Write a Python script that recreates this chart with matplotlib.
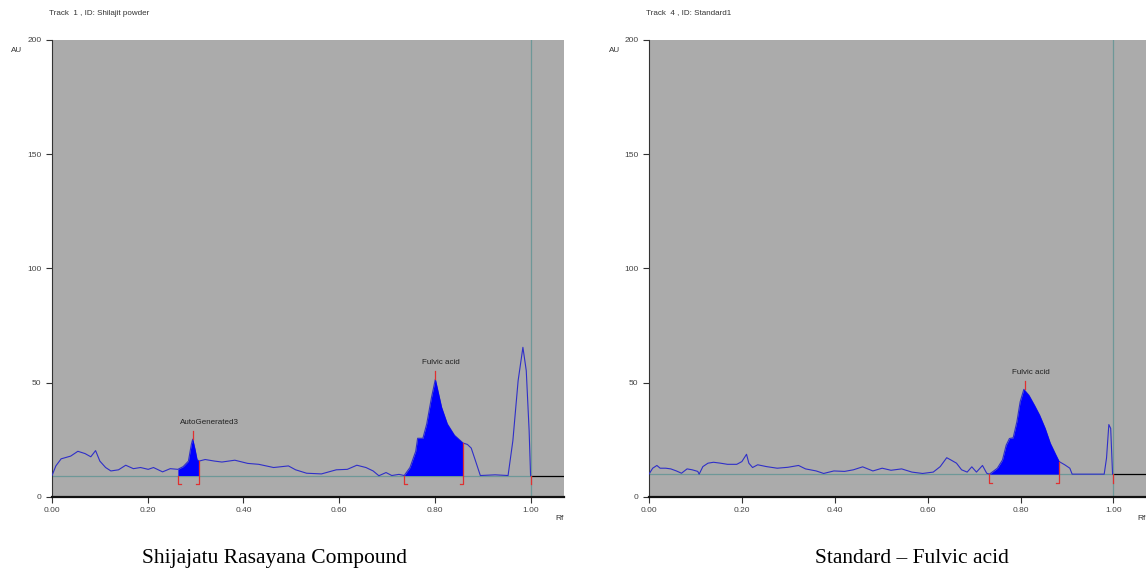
import numpy as np
import matplotlib.pyplot as plt

# ---- data ----
rf_sample = [0.000, 0.008, 0.019, 0.039, 0.054, 0.069, 0.081, 0.091, 0.100, 0.112,
             0.123, 0.139, 0.154, 0.170, 0.185, 0.201, 0.212, 0.231, 0.247, 0.263,
             0.274, 0.285, 0.291, 0.294, 0.299, 0.303, 0.307, 0.320, 0.340, 0.355,
             0.382, 0.409, 0.432, 0.463, 0.494, 0.509, 0.532, 0.563, 0.594, 0.617,
             0.637, 0.656, 0.671, 0.683, 0.698, 0.710, 0.725, 0.736, 0.748, 0.760,
             0.764, 0.775, 0.783, 0.793, 0.801, 0.814, 0.826, 0.841, 0.859, 0.868,
             0.876, 0.884, 0.895, 0.926, 0.953, 0.963, 0.974, 0.984, 0.991, 0.997,
             1.000]
au_sample = [9.4, 13.6, 16.7, 17.9, 20.0, 19.0, 17.6, 20.3, 15.7, 12.9,
             11.4, 11.9, 13.9, 12.4, 12.9, 12.1, 12.9, 11.0, 12.4, 12.1,
             13.3, 15.7, 22.9, 25.3, 20.7, 16.4, 15.7, 16.4, 15.7, 15.3,
             16.1, 14.7, 14.3, 12.9, 13.6, 11.9, 10.4, 10.1, 11.9, 12.1,
             13.9, 12.9, 11.4, 9.3, 10.7, 9.4, 9.9, 9.4, 12.9, 20.0,
             25.7, 25.7, 32.0, 43.6, 51.5, 39.3, 32.0, 27.0, 23.6, 23.0,
             21.4, 16.4, 9.4, 9.7, 9.4, 24.6, 50.9, 65.5, 55.3, 29.0,
             9.4]
base_sample = 9.4
peaks_sample = ["AutoGenerated3", "Fulvic acid"]
peak_rf_sample = [0.294, 0.801]
peak_au_sample = [25.3, 51.5]
start_sample = [0.263, 0.736]
end_sample = [0.307, 0.859]

rf_std = [0.000, 0.008, 0.017, 0.024, 0.036, 0.047, 0.059, 0.070, 0.082, 0.093,
          0.105, 0.108, 0.116, 0.127, 0.139, 0.154, 0.169, 0.189, 0.200, 0.210,
          0.215, 0.223, 0.234, 0.253, 0.276, 0.299, 0.322, 0.337, 0.360, 0.376,
          0.398, 0.421, 0.440, 0.460, 0.482, 0.502, 0.521, 0.544, 0.566, 0.589,
          0.612, 0.627, 0.641, 0.650, 0.662, 0.673, 0.685, 0.695, 0.705, 0.718,
          0.727, 0.733, 0.750, 0.761, 0.769, 0.776, 0.784, 0.792, 0.799, 0.807,
          0.818, 0.830, 0.841, 0.853, 0.864, 0.876, 0.883, 0.895, 0.906, 0.911,
          0.980, 0.985, 0.990, 0.994, 0.998]
au_std = [10.0, 12.6, 13.8, 12.6, 12.6, 12.3, 11.4, 10.4, 12.3, 11.9,
          11.2, 10.0, 13.3, 14.8, 15.2, 14.8, 14.3, 14.3, 15.5, 18.7,
          14.8, 12.9, 14.1, 13.3, 12.6, 13.0, 13.8, 12.3, 11.4, 10.3,
          11.4, 11.2, 11.9, 13.2, 11.4, 12.6, 11.7, 12.3, 10.9, 10.3,
          10.9, 13.3, 17.2, 16.2, 14.8, 11.9, 10.9, 13.2, 10.9, 13.8,
          10.4, 10.0, 12.6, 16.2, 22.7, 25.6, 25.9, 32.9, 41.6, 47.1,
          44.5, 40.1, 35.8, 30.0, 23.5, 18.4, 15.5, 14.1, 12.6, 10.0,
          10.0, 17.0, 31.7, 30.0, 10.0]
base_std = 10.0
peaks_std = ["Fulvic acid"]
peak_rf_std = [0.809]
peak_au_std = [47.1]
start_std = [0.733]
end_std = [0.883]

titles = ["Track  1 , ID: Shilajit powder", "Track  4 , ID: Standard1"]
captions = ["Shijajatu Rasayana Compound", "Standard \u2013 Fulvic acid"]
xticks = [0.0, 0.2, 0.4, 0.6, 0.8, 1.0]
yticks = [0, 50, 100, 150, 200]

GREY = "#ababab"
LINE = "#2f2fc8"
FILL = "#0000ff"
RED = "#e03030"
TEAL = "#6e9898"
SANS = "Liberation Sans"


def draw_track(ax, rf, au, base, names, prf, pau, starts, ends, title):
    rf = np.array(rf)
    au = np.array(au)
    ax.set_facecolor(GREY)
    ax.set_xlim(0, 1.07)
    ax.set_ylim(0, 200)

    # baseline, then the solvent front
    ax.plot([0, 1.0], [base, base], color=TEAL, lw=0.9, zorder=2)
    ax.plot([1.0, 1.07], [base, base], color="black", lw=0.9, zorder=2)
    ax.axvline(1.0, color=TEAL, lw=0.9, zorder=2)

    ax.plot(rf, au, color=LINE, lw=0.8, zorder=3)
    for s, e in zip(starts, ends):
        mask = (rf >= s) & (rf <= e)
        ax.fill_between(rf, au, base, where=mask, color=FILL, lw=0, zorder=3)
        low = base - 3.7
        ax.plot([s + 0.006, s, s], [low, low, base], color=RED, lw=0.9, zorder=4)
        ax.plot([e - 0.006, e, e], [low, low, au[np.argmin(abs(rf - e))]],
                color=RED, lw=0.9, zorder=4)
    ax.plot([1.0, 1.0], [base, base - 3.7], color=RED, lw=0.9, zorder=4)

    for n, x, y in zip(names, prf, pau):
        ax.plot([x, x], [y, y + 3.5], color=RED, lw=0.9, zorder=4)
        ax.text(x - 0.027, y + 7.5, n, fontsize=5.8, family=SANS,
                ha="left", va="center", color="#222222")

    ax.set_xticks(xticks)
    ax.set_xticklabels([f"{t:.2f}" for t in xticks])
    ax.set_yticks(yticks)
    ax.tick_params(labelsize=6, length=4, width=0.8, colors="#333333",
                   labelcolor="#444444")
    for lab in ax.get_xticklabels() + ax.get_yticklabels():
        lab.set_family(SANS)
    ax.spines["top"].set_visible(False)
    ax.spines["right"].set_visible(False)
    ax.spines["left"].set_color("#333333")
    ax.spines["bottom"].set_linewidth(1.6)
    ax.spines["bottom"].set_color("#111111")

    ax.text(-0.005, 1.059, title, transform=ax.transAxes, fontsize=5.8,
            family=SANS, color="#333333", ha="left", va="center")
    ax.text(-0.07, 0.978, "AU", transform=ax.transAxes, fontsize=5.8,
            family=SANS, color="#333333", ha="center", va="center")
    ax.text(1.0, -0.048, "Rf", transform=ax.transAxes, fontsize=6,
            family=SANS, color="#333333", ha="right", va="center")


fig = plt.figure(figsize=(11.46, 5.71), dpi=100)
ax1 = fig.add_axes([0.0454, 0.1296, 0.4468, 0.8004])
ax2 = fig.add_axes([0.5663, 0.1296, 0.4337, 0.8004])

draw_track(ax1, rf_sample, au_sample, base_sample, peaks_sample, peak_rf_sample,
           peak_au_sample, start_sample, end_sample, titles[0])
draw_track(ax2, rf_std, au_std, base_std, peaks_std, peak_rf_std,
           peak_au_std, start_std, end_std, titles[1])

fig.text(275 / 1146, 1 - 563 / 571, captions[0], fontsize=15.5,
         family="Liberation Serif", ha="center", va="baseline")
fig.text(912 / 1146, 1 - 563 / 571, captions[1], fontsize=15.5,
         family="Liberation Serif", ha="center", va="baseline")

fig.savefig("out.png", dpi=100, facecolor="white")
